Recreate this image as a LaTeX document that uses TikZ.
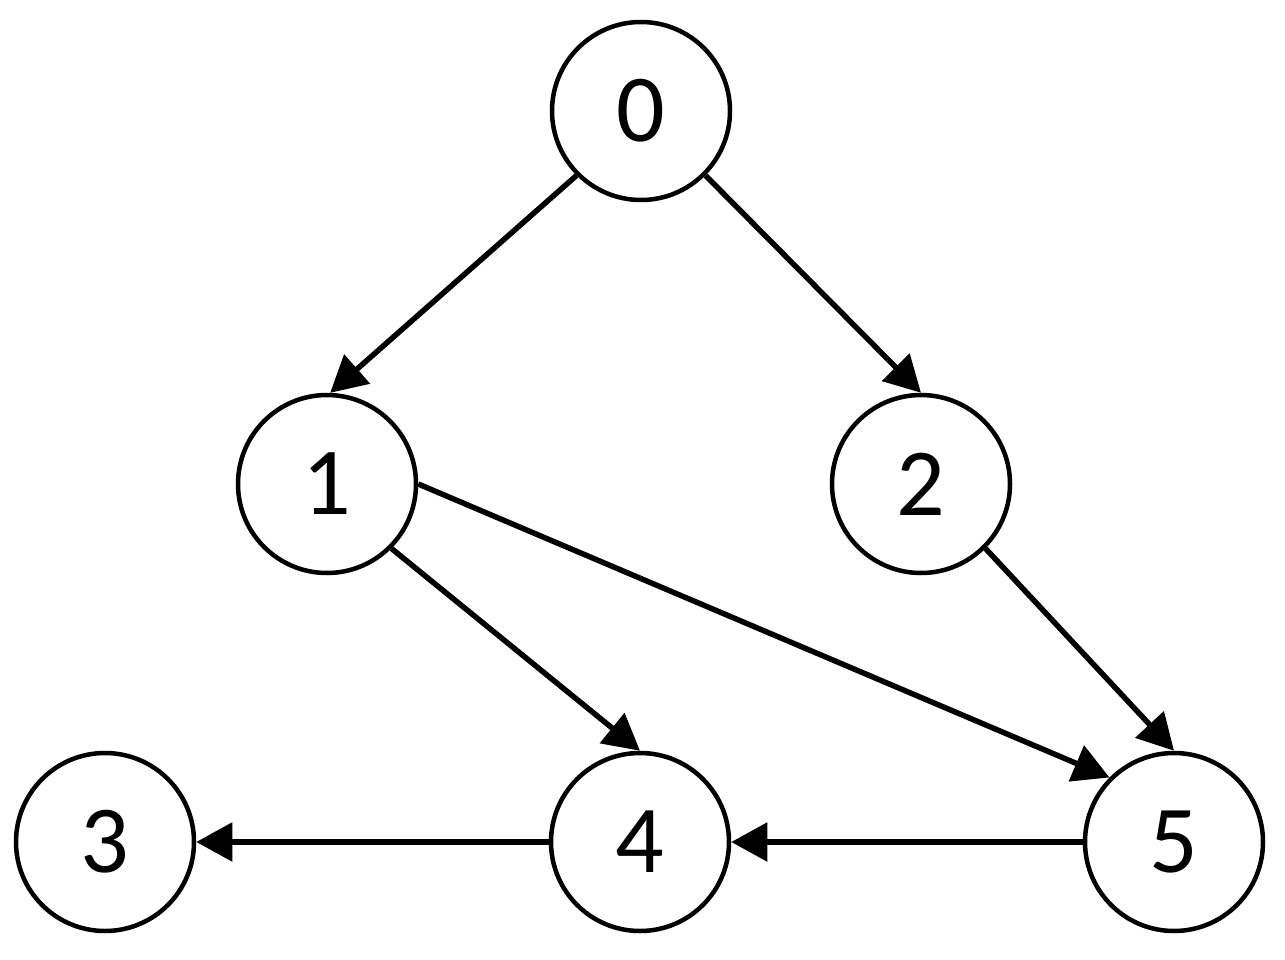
\documentclass[tikz,border=0pt]{standalone}
\usepackage{fontspec}
\setmainfont{Carlito}
\usetikzlibrary{arrows.meta}
\begin{document}
\begin{tikzpicture}[x=1pt,y=-1pt,
  vertex/.style={circle,draw,line width=4.5pt,minimum size=178pt,inner sep=0pt,
    font=\fontsize{96}{100}\selectfont},
  edge/.style={line width=5.5pt,-{Triangle[length=36pt,width=38pt]}}]
\useasboundingbox (0,0) rectangle (1285,960);
\node[vertex] (n0) at (641,111) {0};
\node[vertex] (n1) at (327,484) {1};
\node[vertex] (n2) at (921,484) {2};
\node[vertex] (n3) at (105,842) {3};
\node[vertex] (n4) at (640,842) {4};
\node[vertex] (n5) at (1174,842) {5};
\draw[edge] (n0.225) -- (n1.88);
\draw[edge] (n0.-45) -- (n2.north);
\draw[edge] (n1.-45) -- (n4.north);
\draw[edge] (n1.east) -- (n5.135);
\draw[edge] (n2.-45) -- (n5.north);
\draw[edge] (n4.west) -- (n3.east);
\draw[edge] (n5.west) -- (n4.east);
\end{tikzpicture}
\end{document}
